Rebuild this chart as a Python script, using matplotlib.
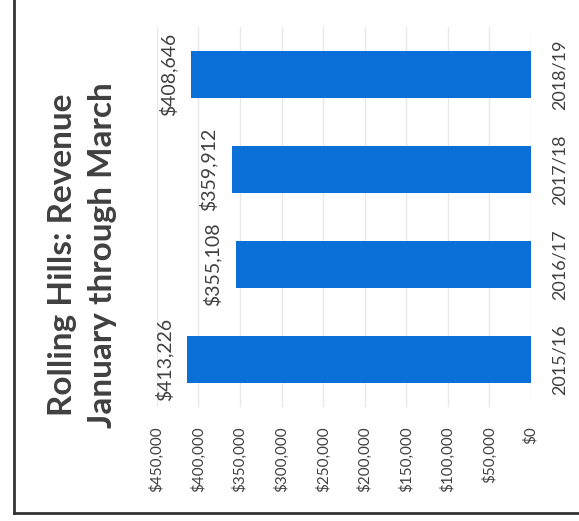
import matplotlib.pyplot as plt
from matplotlib.lines import Line2D

seasons = ["2015/16", "2016/17", "2017/18", "2018/19"]
revenue = [413226, 355108, 359912, 408646]
ticks = [0, 50000, 100000, 150000, 200000, 250000, 300000, 350000, 400000, 450000]
tick_labels = ["${:,}".format(t) for t in ticks]
title = "Rolling Hills: Revenue\nJanuary through March"

plt.rcParams['font.family'] = ['Lato', 'DejaVu Sans']
text_col = '#404040'

fig = plt.figure(figsize=(5.79, 5.21), dpi=100)
ax = fig.add_axes([0.271, 0.219, 0.646, 0.729])

ax.barh(range(len(seasons)), revenue, height=0.5, color='#0a6fd6', zorder=3)
ax.set_xlim(450000, 0)
ax.set_ylim(-0.5, len(seasons) - 0.5)

ax.set_xticks(ticks)
ax.set_xticklabels(tick_labels, rotation=90, fontsize=11, color=text_col)
ax.set_yticks(range(len(seasons)))
ax.set_yticklabels(seasons, rotation=90, fontsize=13, color=text_col, va='center')
ax.yaxis.tick_right()
ax.tick_params(axis='both', length=0)
ax.tick_params(axis='x', pad=14)
ax.tick_params(axis='y', pad=15)
ax.grid(axis='x', color='#e8e8e8', linewidth=1, zorder=0)
for s in ax.spines.values():
    s.set_visible(False)

# data labels left of the bars
for i, v in enumerate(revenue):
    ax.annotate("${:,}".format(v), xy=(v, i), xytext=(-14, 0), textcoords='offset pixels',
                rotation=90, ha='right', va='center', fontsize=14, color=text_col)

fig.text(0.143, 0.51, title, rotation=90, ha='center', va='center', fontsize=24,
         fontweight='bold', color=text_col, multialignment='center', linespacing=1.45)

# scanned border
fig.add_artist(Line2D([14/579, 14/579], [1, 1-513/521], transform=fig.transFigure,
                      color='#333333', linewidth=2))
fig.add_artist(Line2D([14/579, 1], [1-513/521, 1-513/521], transform=fig.transFigure,
                      color='#333333', linewidth=2))

fig.savefig("out.png", dpi=100)
